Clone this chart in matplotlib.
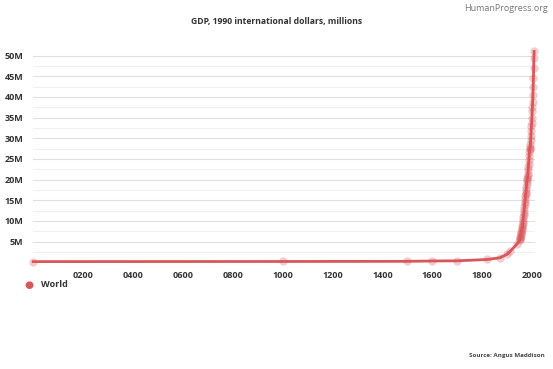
import matplotlib
matplotlib.use("Agg")
import matplotlib.pyplot as plt
from matplotlib.ticker import FuncFormatter, MultipleLocator

# world GDP, 1990 international dollars, millions (Angus Maddison)
years = [1, 1000, 1500, 1600, 1700, 1820, 1870, 1900, 1913, 1940,
         1950, 1951, 1952, 1953, 1954, 1955, 1956, 1957, 1958, 1959,
         1960, 1961, 1962, 1963, 1964, 1965, 1966, 1967, 1968, 1969,
         1970, 1971, 1972, 1973, 1974, 1975, 1976, 1977, 1978, 1979,
         1980, 1981, 1982, 1983, 1984, 1985, 1986, 1987, 1988, 1989,
         1990, 1991, 1992, 1993, 1994, 1995, 1996, 1997, 1998, 1999,
         2000, 2001, 2002, 2003, 2004, 2005, 2006, 2007, 2008]
gdp = [182156, 210975, 247116, 329417, 371369, 694442, 1101369, 1973000, 2733365, 4500000,
       5336101, 5632000, 5869000, 6159000, 6388000, 6806000, 7153000, 7450000, 7714000, 8099000,
       8441000, 8753000, 9242000, 9710000, 10349000, 10929000, 11516000, 11985000, 12631000, 13353000,
       14025000, 14606000, 15262000, 16024000, 16438000, 16745000, 17529000, 18231000, 18989000, 19662000,
       20030000, 20459000, 20777000, 21394000, 22322000, 23104000, 23890000, 24740000, 25778000, 26572000,
       27359000, 27502000, 28003000, 28637000, 29532000, 30611000, 31745000, 32992000, 33726000, 34893000,
       36704000, 37568000, 38758000, 40454000, 42471000, 44556000, 46916000, 49424000, 50974000]

x_ticks = [200, 400, 600, 800, 1000, 1200, 1400, 1600, 1800, 2000]
y_ticks = [5e6, 10e6, 15e6, 20e6, 25e6, 30e6, 35e6, 40e6, 45e6, 50e6]

red = "#d9575b"
plt.rcParams['font.family'] = ['Open Sans', 'DejaVu Sans']

fig = plt.figure(figsize=(5.53, 3.69), dpi=100)
ax = fig.add_axes([0.0597, 0.289, 0.908, 0.583])

ax.plot(years, gdp, color=red, linewidth=2, zorder=3, clip_on=False)
ax.plot(years, gdp, linestyle="none", marker="o", markersize=6,
        color=red, alpha=0.3, markeredgewidth=0, zorder=4, clip_on=False)

ax.set_xlim(0, 2012)
ax.set_ylim(0, 52e6)
ax.set_xticks(x_ticks)
ax.xaxis.set_major_formatter(FuncFormatter(lambda v, p: f"{int(v):04d}"))
ax.set_yticks(y_ticks)
ax.yaxis.set_minor_locator(MultipleLocator(2.5e6))
ax.yaxis.set_major_formatter(FuncFormatter(lambda v, p: f"{int(v / 1e6)}M"))

ax.grid(axis="y", which="major", color="#e0e0e0", linewidth=0.8)
ax.grid(axis="y", which="minor", color="#f0f0f0", linewidth=0.8)
ax.set_axisbelow(True)
for s in ax.spines.values():
    s.set_visible(False)
ax.tick_params(axis="both", which="both", length=0)
ax.tick_params(axis="x", pad=6)
ax.tick_params(axis="y", pad=7)
for lab in ax.get_xticklabels() + ax.get_yticklabels():
    lab.set_fontsize(6.5)
    lab.set_fontweight("bold")
    lab.set_color("#333333")

fig.text(0.5, 0.943, "GDP, 1990 international dollars, millions", ha="center", va="center",
         fontsize=6.2, fontweight="bold", color="#333333")
fig.text(0.99, 0.978, "HumanProgress.org", ha="right", va="center",
         fontsize=6.5, color="#777777")

# legend
fig.text(0.052, 0.228, "\u25CF", ha="center", va="center", fontsize=7.5, color=red,
         family=['DejaVu Sans'])
fig.text(0.075, 0.228, "World", ha="left", va="center", fontsize=6.5,
         fontweight="bold", color="#333333")

fig.text(0.985, 0.037, "Source: Angus Maddison", ha="right", va="center",
         fontsize=4.5, fontweight="bold", color="#444444")

fig.savefig("out.png", dpi=100)
